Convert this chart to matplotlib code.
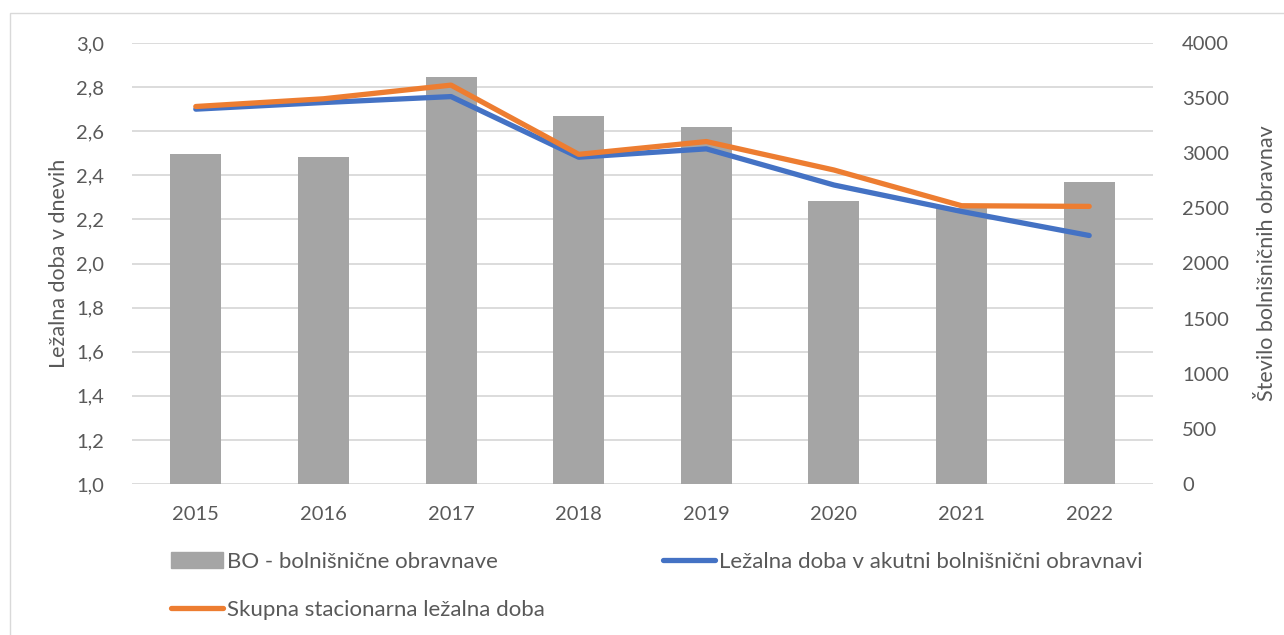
import matplotlib
matplotlib.use('Agg')
import matplotlib.pyplot as plt
import matplotlib.patches as mpatches
from matplotlib.lines import Line2D
import numpy as np

years = ['2015', '2016', '2017', '2018', '2019', '2020', '2021', '2022']
bo_obravnave = [2995, 2968, 3690, 3335, 3235, 2570, 2505, 2738]
lezalna_akutna = [2.70, 2.73, 2.757, 2.482, 2.52, 2.356, 2.236, 2.127]
skupna_stacionarna = [2.712, 2.747, 2.809, 2.495, 2.553, 2.424, 2.262, 2.259]
left_ticks = [1.0, 1.2, 1.4, 1.6, 1.8, 2.0, 2.2, 2.4, 2.6, 2.8, 3.0]
right_ticks = [0, 500, 1000, 1500, 2000, 2500, 3000, 3500, 4000]

txt = '#595959'
plt.rcParams['font.family'] = ['Lato', 'DejaVu Sans']
plt.rcParams['font.size'] = 14.5

fig = plt.figure(figsize=(12.84, 6.35), dpi=100)
fig.patches.append(mpatches.Rectangle((10/1284, -0.05), 1.2, 1 - 13/635 + 0.05, transform=fig.transFigure,
                                      fill=False, edgecolor='#D9D9D9', linewidth=1))

ax = fig.add_axes([132/1284, 1 - 484/635, 1021/1284, 441/635])
ax2 = ax.twinx()
x = np.arange(len(years))

ax.set_ylim(1, 3)
ax2.set_ylim(0, 4000)
ax.set_xlim(-0.5, len(years) - 0.5)

# bars use the right scale but are drawn in the left axes so the lines sit on top
ax.bar(x, bo_obravnave, 0.4, color='#A5A5A5', transform=ax2.transData, zorder=2)
ax.plot(x, lezalna_akutna, color='#4472C4', lw=3.8, solid_capstyle='round', solid_joinstyle='round', zorder=3)
ax.plot(x, skupna_stacionarna, color='#ED7D31', lw=3.8, solid_capstyle='round', solid_joinstyle='round', zorder=4)

ax.set_yticks(left_ticks)
ax.set_yticklabels([f'{v:.1f}'.replace('.', ',') for v in left_ticks])
ax2.set_yticks(right_ticks)
ax2.set_yticklabels([str(v) for v in right_ticks])
ax.set_xticks(x)
ax.set_xticklabels(years)

ax.grid(axis='y', color='#D9D9D9', lw=1.3, zorder=0)
ax.set_axisbelow(True)
for a in (ax, ax2):
    for s in a.spines.values():
        s.set_visible(False)
ax.tick_params(axis='both', length=0, colors=txt, labelsize=14.5)
ax.tick_params(axis='y', pad=20)
ax.tick_params(axis='x', pad=16)
ax2.tick_params(axis='y', length=0, colors=txt, labelsize=14.5, pad=21)

ax.set_ylabel('Ležalna doba v dnevih', color=txt, fontsize=15.5, labelpad=5)
ax2.set_ylabel('Število bolnišničnih obravnav', color=txt, fontsize=15.5, labelpad=20)

handles = [mpatches.Patch(color='#A5A5A5'),
           Line2D([], [], color='#ED7D31', lw=3.8, solid_capstyle='round'),
           Line2D([], [], color='#4472C4', lw=3.8, solid_capstyle='round')]
labels = ['BO - bolnišnične obravnave', 'Skupna stacionarna ležalna doba',
          'Ležalna doba v akutni bolnišnični obravnavi']
leg = fig.legend(handles, labels, ncol=2, loc='upper left', bbox_to_anchor=(151/1284, 1 - 532/635),
                 frameon=False, handlelength=2.35, handletextpad=0.18, columnspacing=5.3,
                 labelspacing=1.25, fontsize=16)
for t in leg.get_texts():
    t.set_color(txt)

fig.savefig('out.png', dpi=100)
